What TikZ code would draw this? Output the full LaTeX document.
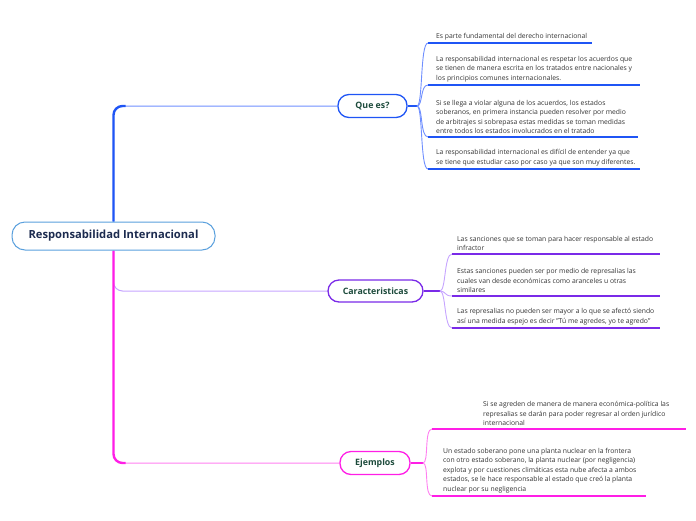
\documentclass[tikz,border=0pt]{standalone}
\usepackage{fontspec}
\setmainfont{Open Sans}
\usetikzlibrary{calc,backgrounds}
\definecolor{rootb}{HTML}{5AA0DD}
\definecolor{roott}{HTML}{1C2B4F}
\definecolor{brt}{HTML}{1D4B3C}
\definecolor{bl}{HTML}{1F55F5}
\definecolor{bll}{HTML}{6F8FFF}
\definecolor{pu}{HTML}{7A2AE8}
\definecolor{pul}{HTML}{C6A4FF}
\definecolor{mg}{HTML}{FF1EE6}
\definecolor{mgl}{HTML}{FF80F0}
\definecolor{leaft}{HTML}{333333}
\tikzset{
  rootbox/.style={draw=rootb, line width=1pt, fill=white, rounded corners=13pt,
    minimum width=203pt, minimum height=28pt, inner sep=0pt,
    font=\fontsize{11.2}{13}\selectfont\bfseries, text=roott},
  branch/.style={line width=1.3pt, fill=white, rounded corners=11pt,
    minimum height=23pt, inner sep=0pt,
    font=\fontsize{8.8}{10}\selectfont\bfseries, text=brt},
  leaftext/.style={anchor=south west, inner sep=0pt, align=left, text=leaft,
    font=\fontsize{6.8}{9.4}\selectfont},
  fanline/.style={to path={.. controls ($(\tikztostart)+(6,0)$) and ($(\tikztotarget)+(-8,0)$) .. (\tikztotarget)}},
}
\begin{document}
\begin{tikzpicture}[x=1pt,y=-1pt]
\useasboundingbox (0,0) rectangle (696,520);
% main nodes
\node[rootbox] (root) at (113.5,236) {Responsabilidad Internacional};
\node[branch, draw=bl, minimum width=69pt] (q) at (372.5,106) {Que es?};
\node[branch, draw=pu, minimum width=95pt, minimum height=22pt] (c) at (375.5,291) {Caracteristicas};
\node[branch, draw=mg, minimum width=70pt] (e) at (375,463) {Ejemplos};

% trunk connectors
\begin{pgfonlayer}{background}
\draw[bll, line width=1pt, rounded corners=9pt] (root.north) |- (q.west);
\draw[bl, line width=2.4pt, rounded corners=9pt] (root.north) |- ($(root.north |- q.west)+(12,0)$);
\draw[pul, line width=1pt, rounded corners=9pt] (root.south) |- (c.west);
\draw[mgl, line width=1pt, rounded corners=9pt] (root.south) |- (e.west);
\draw[mg, line width=2.4pt, rounded corners=9pt] (root.south) |- ($(root.south |- e.west)+(12,0)$);
\end{pgfonlayer}

% fan points
\coordinate (qf) at (417,106);
\coordinate (cf) at (440,291);
\coordinate (ef) at (423,463);
\draw[bl, line width=1.2pt] (q.east) -- (qf);
\draw[pu, line width=1.2pt] (c.east) -- (cf);
\draw[mg, line width=1.2pt] (e.east) -- (ef);

% leaf underline endpoints
\coordinate (q1a) at (428,43);  \coordinate (q1b) at (592,43);
\coordinate (q2a) at (428,85);  \coordinate (q2b) at (640,85);
\coordinate (q3a) at (428,137); \coordinate (q3b) at (638,137);
\coordinate (q4a) at (428,169); \coordinate (q4b) at (640,169);
\coordinate (c1a) at (452,254); \coordinate (c1b) at (660,254);
\coordinate (c2a) at (452,296); \coordinate (c2b) at (660,296);
\coordinate (c3a) at (452,328); \coordinate (c3b) at (660,328);
\coordinate (e1a) at (432,429); \coordinate (e1b) at (686,429);
\coordinate (e2a) at (432,496); \coordinate (e2b) at (646,496);

% fan connectors
\foreach \t in {q1a,q2a,q3a,q4a} \draw[bll, line width=0.9pt] (qf) to[fanline] (\t);
\foreach \t in {c1a,c2a,c3a} \draw[pul, line width=0.9pt] (cf) to[fanline] (\t);
\foreach \t in {e1a,e2a} \draw[mgl, line width=0.9pt] (ef) to[fanline] (\t);

% underlines
\foreach \a/\b in {q1a/q1b,q2a/q2b,q3a/q3b,q4a/q4b} \draw[bl, line width=1.8pt] (\a) -- (\b);
\foreach \a/\b in {c1a/c1b,c2a/c2b,c3a/c3b} \draw[pu, line width=1.8pt] (\a) -- (\b);
\foreach \a/\b in {e1a/e1b,e2a/e2b} \draw[mg, line width=1.8pt] (\a) -- (\b);

% leaf texts
\node[leaftext] (tq1) at (436,40) {Es parte fundamental del derecho internacional};
\node[leaftext] (tq2) at (436,82) {La responsabilidad internacional es respetar los acuerdos que\\se tienen de manera escrita en los tratados entre nacionales y\\los principios comunes internacionales.};
\node[leaftext] (tq3) at (436,134) {Si se llega a violar alguna de los acuerdos, los estados\\soberanos, en primera instancia pueden resolver por medio\\de arbitrajes si sobrepasa estas medidas se toman medidas\\entre todos los estados involucrados en el tratado};
\node[leaftext] (tq4) at (436,166) {La responsabilidad internacional es difícil de entender ya que\\se tiene que estudiar caso por caso ya que son muy diferentes.};

\node[leaftext] (tc1) at (457,251) {Las sanciones que se toman para hacer responsable al estado\\infractor};
\node[leaftext] (tc2) at (457,293) {Estas sanciones pueden ser por medio de represalias las\\cuales van desde económicas como aranceles u otras\\similares};
\node[leaftext] (tc3) at (457,325) {Las represalias no pueden ser mayor a lo que se afectó siendo\\así una medida espejo es decir "Tú me agredes, yo te agredo"};

\node[leaftext] (te1) at (483,426) {Si se agreden de manera de manera económica-política las\\represalias se darán para poder regresar al orden jurídico\\internacional};
\node[leaftext] (te2) at (443,493) {Un estado soberano pone una planta nuclear en la frontera\\con otro estado soberano, la planta nuclear (por negligencia)\\explota y por cuestiones climáticas esta nube afecta a ambos\\estados, se le hace responsable al estado que creó la planta\\nuclear por su negligencia};
\end{tikzpicture}
\end{document}
